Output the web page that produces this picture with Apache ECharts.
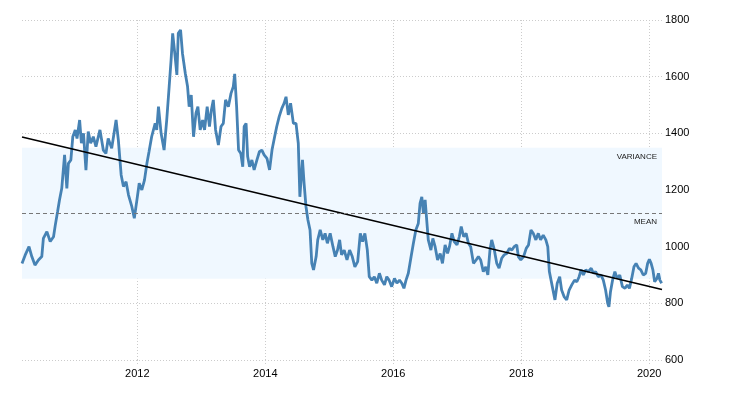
<!DOCTYPE html>
<html>
<head>
<meta charset="utf-8">
<script src="https://cdn.jsdelivr.net/npm/echarts@6/dist/echarts.min.js"></script>
<style>html,body{margin:0;padding:0;background:#fff;}#chart{width:730px;height:400px;}</style>
</head>
<body>
<div id="chart"></div>
<script>
const dates = [
  '2010-03-14','2010-04-01','2010-04-23','2010-05-09','2010-05-27','2010-06-16','2010-07-05','2010-07-14','2010-08-03','2010-08-22','2010-09-10','2010-09-20','2010-10-03','2010-10-14','2010-10-27','2010-11-12','2010-11-25','2010-12-04','2010-12-18','2010-12-29',
  '2011-01-12','2011-01-22','2011-02-06','2011-02-16','2011-02-28','2011-03-14','2011-03-27','2011-04-10','2011-04-25','2011-05-10','2011-06-02','2011-06-21','2011-07-06','2011-07-19','2011-08-08','2011-09-02','2011-09-15','2011-10-01','2011-10-14','2011-10-29','2011-11-12','2011-12-01','2011-12-15','2011-12-30',
  '2012-01-12','2012-01-27','2012-02-11','2012-02-25','2012-03-08','2012-03-23','2012-04-12','2012-04-21','2012-05-01','2012-05-16','2012-06-02','2012-06-17','2012-07-01','2012-07-12','2012-07-21','2012-08-04','2012-08-14','2012-08-22','2012-09-04','2012-09-15','2012-10-01','2012-10-14','2012-10-23','2012-11-04','2012-11-17','2012-12-01','2012-12-12','2012-12-25',
  '2013-01-08','2013-01-19','2013-02-03','2013-02-16','2013-02-27','2013-03-10','2013-03-23','2013-04-08','2013-04-23','2013-05-06','2013-05-19','2013-06-04','2013-06-19','2013-07-02','2013-07-10','2013-07-21','2013-08-01','2013-08-14','2013-08-25','2013-09-02','2013-09-13','2013-09-22','2013-10-03','2013-10-16','2013-10-29','2013-11-14','2013-11-28','2013-12-12','2013-12-25',
  '2014-01-10','2014-01-25','2014-02-08','2014-02-23','2014-03-07','2014-03-21','2014-04-05','2014-04-18','2014-04-29','2014-05-12','2014-05-25','2014-06-10','2014-06-25','2014-07-08','2014-07-17','2014-08-01','2014-08-10','2014-08-21','2014-09-01','2014-09-13','2014-09-23','2014-10-03','2014-10-18','2014-10-27','2014-11-10','2014-11-25','2014-12-08','2014-12-21',
  '2015-01-06','2015-01-22','2015-02-04','2015-02-17','2015-03-01','2015-03-12','2015-03-27','2015-04-12','2015-04-27','2015-05-12','2015-05-27','2015-06-12','2015-06-27','2015-07-10','2015-07-23','2015-08-06','2015-08-17','2015-09-01','2015-09-15','2015-09-29','2015-10-14','2015-10-27','2015-11-12','2015-11-25','2015-12-08','2015-12-23',
  '2016-01-08','2016-01-22','2016-02-06','2016-02-19','2016-03-02','2016-03-14','2016-03-27','2016-04-12','2016-04-25','2016-05-09','2016-05-23','2016-06-02','2016-06-12','2016-06-21','2016-07-01','2016-07-10','2016-07-19','2016-08-03','2016-08-14','2016-08-27','2016-09-10','2016-09-25','2016-10-08','2016-10-23','2016-11-06','2016-11-17','2016-12-01','2016-12-14','2016-12-30',
  '2017-01-12','2017-01-23','2017-02-06','2017-02-20','2017-03-05','2017-03-18','2017-04-03','2017-04-18','2017-05-01','2017-05-14','2017-05-29','2017-06-12','2017-06-24','2017-07-06','2017-07-16','2017-07-29','2017-08-14','2017-08-27','2017-09-11','2017-09-25','2017-10-10','2017-10-25','2017-11-08','2017-11-21','2017-12-06','2017-12-15','2017-12-29',
  '2018-01-14','2018-01-29','2018-02-11','2018-02-25','2018-03-10','2018-03-25','2018-04-08','2018-04-21','2018-05-06','2018-05-21','2018-06-01','2018-06-10','2018-06-27','2018-07-12','2018-07-25','2018-08-08','2018-08-19','2018-09-02','2018-09-17','2018-10-01','2018-10-16','2018-11-01','2018-11-14','2018-11-27','2018-12-08','2018-12-21',
  '2019-01-04','2019-01-19','2019-02-04','2019-02-17','2019-03-01','2019-03-16','2019-04-01','2019-04-14','2019-04-27','2019-05-09','2019-05-16','2019-05-25','2019-06-06','2019-06-19','2019-07-02','2019-07-17','2019-08-01','2019-08-16','2019-08-29','2019-09-10','2019-09-23','2019-10-06','2019-10-18','2019-11-01','2019-11-14','2019-11-28','2019-12-12','2019-12-23',
  '2020-01-02','2020-01-12','2020-01-22','2020-02-01','2020-02-14','2020-02-23','2020-03-02','2020-03-12'
];
const values = [
  941,970,1000,965,935,953,965,1029,1053,1018,1035,1076,1123,1165,1206,1324,1206,1294,1306,1388,
  1412,1382,1447,1365,1400,1270,1406,1365,1388,1353,1412,1341,1329,1382,1347,1447,1376,1253,1212,1229,1182,1141,1100,1165,
  1224,1200,1235,1294,1335,1388,1435,1412,1494,1400,1341,1447,1565,1659,1753,1671,1606,1753,1765,1682,1612,1565,1494,1535,1388,1471,1494,1412,
  1447,1412,1494,1424,1482,1518,1412,1359,1424,1435,1518,1494,1541,1565,1610,1494,1341,1329,1282,1424,1435,1318,1282,1306,1271,1306,1335,1341,1324,
  1312,1271,1341,1388,1424,1459,1488,1506,1529,1465,1506,1435,1435,1365,1176,1306,1224,1141,1094,1059,941,918,965,1024,1059,1024,1047,1012,
  1047,1000,965,988,1024,971,988,953,988,965,929,947,1047,1018,1047,988,894,882,894,871,906,882,865,894,882,859,
  888,871,882,871,853,882,906,965,1012,1059,1082,1153,1176,1118,1165,1094,1024,988,1029,1000,953,976,941,1006,976,1000,1047,1018,1006,
  1035,1071,1035,1047,1012,1000,941,953,965,953,912,929,900,988,1024,994,941,924,959,971,976,994,988,1000,1006,965,953,
  965,994,1006,1059,1047,1024,1047,1024,1041,1024,1000,912,859,812,871,894,847,824,812,847,865,882,876,894,918,900,
  918,912,924,906,912,894,900,882,847,800,788,841,882,912,888,900,859,853,865,853,888,929,941,924,918,900,906,941,
  955,941,918,876,888,906,882,871
];
const xRange = ['2010-03-14', '2020-03-14'];
const xTickLabels = ['2012-01-01', '2014-01-01', '2016-01-01', '2018-01-01', '2020-01-01'];
const yTicks = [600, 800, 1000, 1200, 1400, 1600, 1800];
const meanValue = 1118;
const varianceBand = [887, 1349];
const trendValues = [1387, 849];

const ts = s => Date.parse(s + 'T00:00:00Z');
const chart = echarts.init(document.getElementById('chart'));
const font = 'Liberation Sans, Arial, sans-serif';
const tickTs = xTickLabels.map(ts);
chart.setOption({
  animation: false,
  grid: { left: 22, right: 68, top: 20, bottom: 40 },
  xAxis: {
    type: 'value',
    min: ts(xRange[0]),
    max: ts(xRange[1]),
    axisLine: { show: false },
    axisTick: { show: true, customValues: tickTs, length: 4, lineStyle: { color: '#ccc', type: [1, 2] } },
    axisLabel: {
      customValues: tickTs,
      formatter: v => String(new Date(v).getUTCFullYear()),
      fontSize: 11, fontFamily: font, color: '#000', margin: 8
    },
    splitLine: { show: true, lineStyle: { color: '#ccc', type: [1, 2], width: 1 } }
  },
  yAxis: {
    type: 'value',
    position: 'right',
    min: yTicks[0],
    max: yTicks[yTicks.length - 1],
    interval: yTicks[1] - yTicks[0],
    axisLine: { show: false },
    axisTick: { show: false },
    axisLabel: { fontSize: 11, fontFamily: font, color: '#000', margin: 3, formatter: v => String(v) },
    splitLine: { show: true, lineStyle: { color: '#ccc', type: [1, 2], width: 1 } }
  },
  series: [
    {
      type: 'line', z: 1, data: [], silent: true,
      markArea: {
        silent: true,
        itemStyle: { color: '#F0F8FF' },
        label: { show: true, position: 'insideTopRight', formatter: 'VARIANCE', fontSize: 8, fontFamily: font, color: '#222', distance: 5 },
        data: [[{ yAxis: varianceBand[0] }, { yAxis: varianceBand[1] }]]
      },
      markLine: {
        silent: true, symbol: 'none',
        lineStyle: { color: '#777', type: [4, 3], width: 1 },
        label: { show: true, position: 'insideEndBottom', formatter: 'MEAN', fontSize: 8, fontFamily: font, color: '#222', distance: [5, 5] },
        data: [{ yAxis: meanValue }]
      }
    },
    {
      type: 'line', z: 2,
      data: dates.map((d, i) => [ts(d), values[i]]),
      showSymbol: false,
      lineStyle: { color: '#4682B4', width: 2.8 },
      itemStyle: { color: '#4682B4' }
    },
    {
      type: 'line', z: 3,
      data: [[ts(xRange[0]), trendValues[0]], [ts(xRange[1]), trendValues[1]]],
      showSymbol: false,
      lineStyle: { color: '#000', width: 1.5 },
      itemStyle: { color: '#000' }
    }
  ]
});
</script>
</body>
</html>
